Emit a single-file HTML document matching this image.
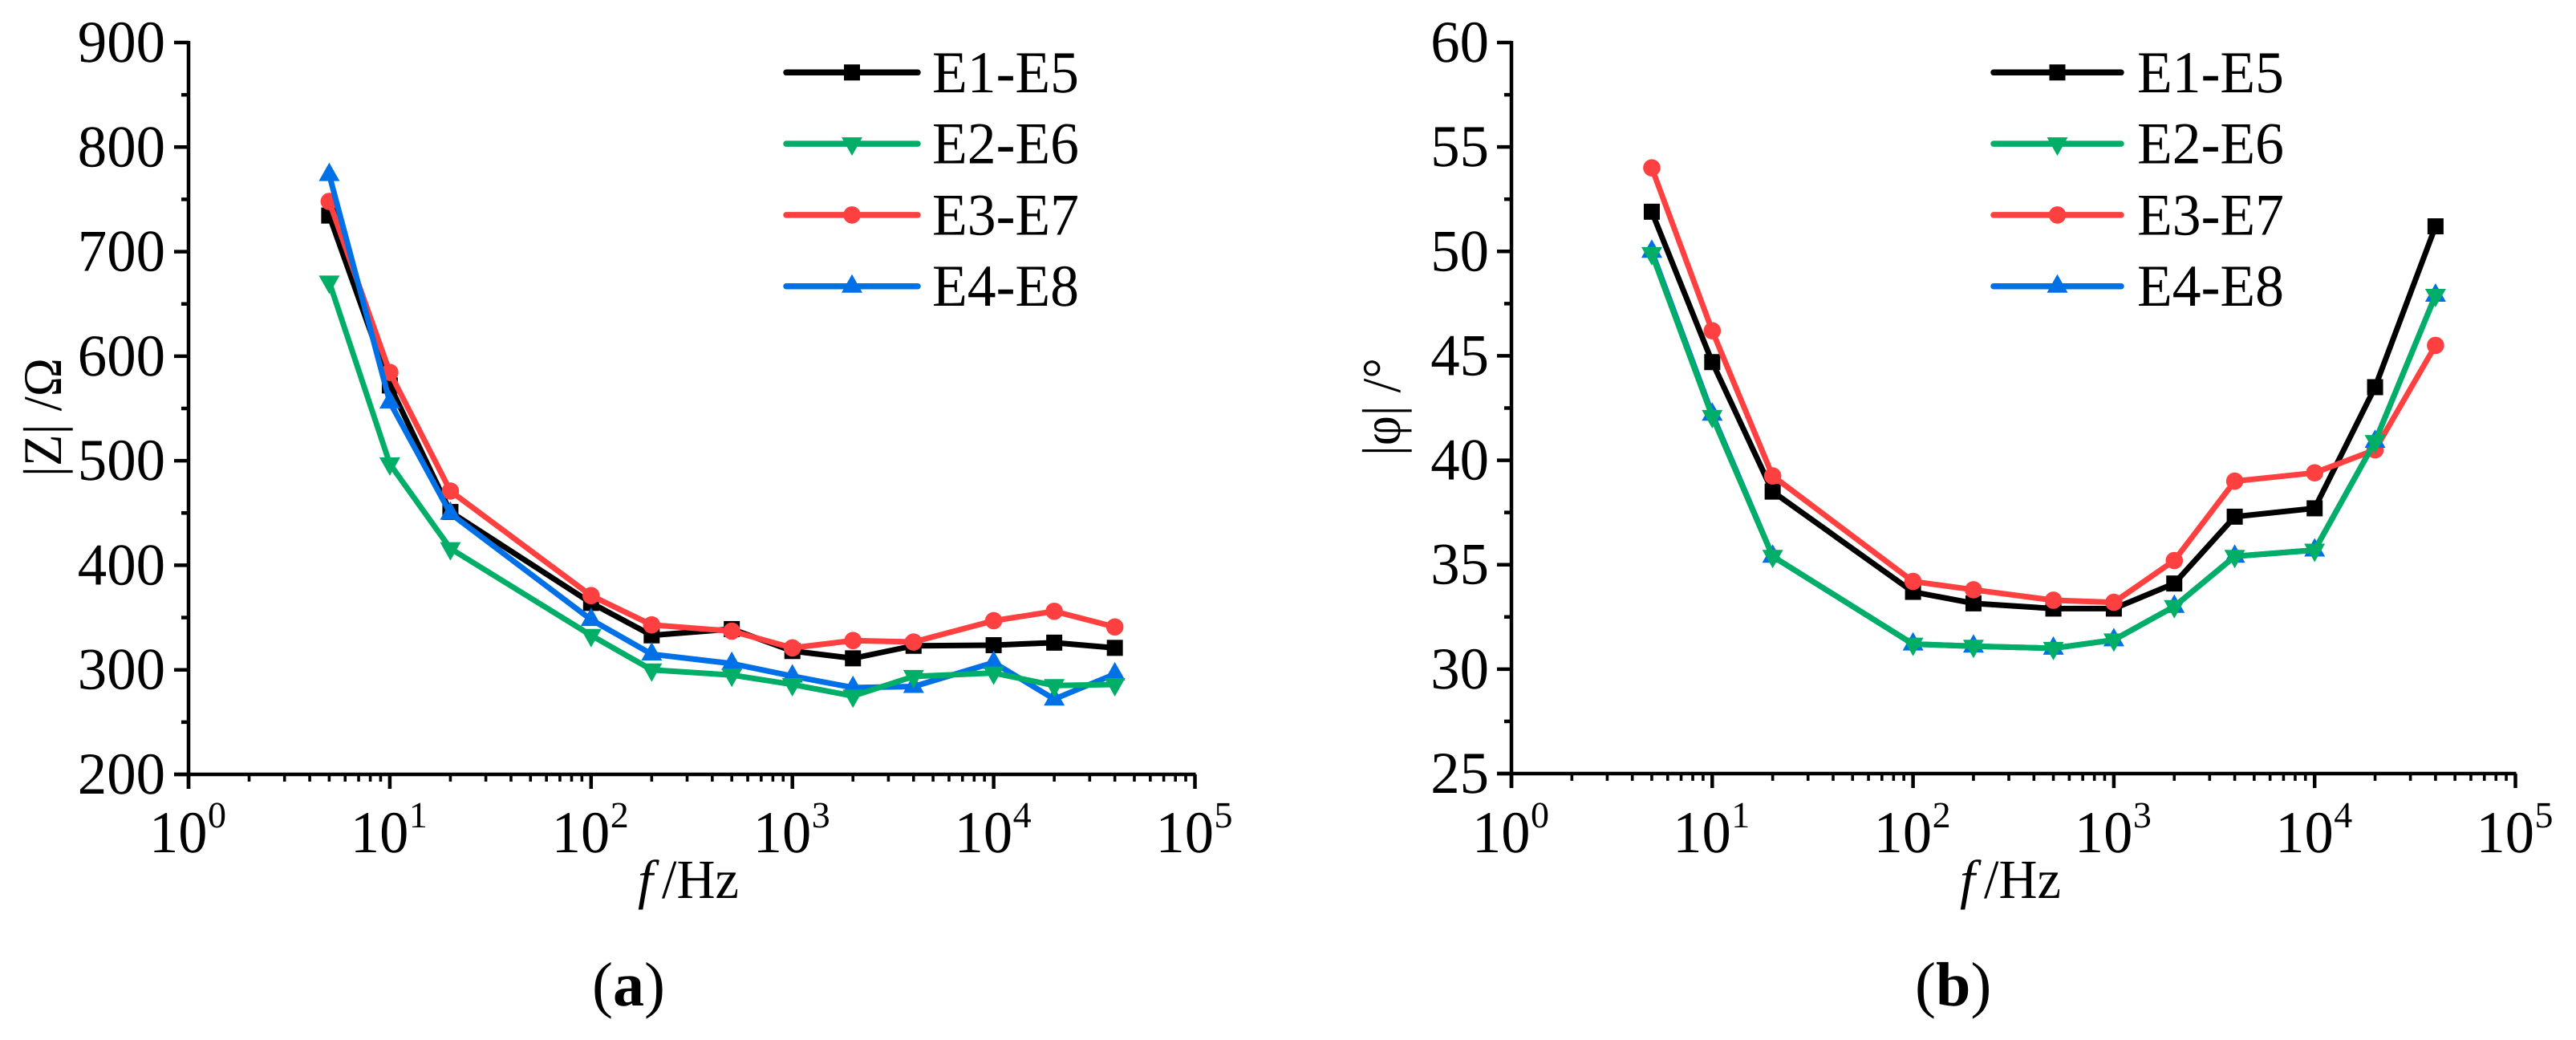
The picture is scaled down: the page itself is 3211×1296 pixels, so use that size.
<!DOCTYPE html>
<html lang="en">
<head>
<meta charset="utf-8">
<title>Impedance magnitude and phase versus frequency</title>
<style>
html,body{margin:0;padding:0;background:#fff;}
svg{display:block;font-family:"Liberation Serif","Noto Serif CJK SC",serif;fill:#000;text-rendering:geometricPrecision;}
</style>
</head>
<body>
<svg id="figure" xmlns="http://www.w3.org/2000/svg" width="3211" height="1296" viewBox="0 0 3211 1296">
<rect width="3211" height="1296" fill="#fff"></rect>
</svg>
<script>
const frequencies = [5, 10, 20, 100, 200, 500, 1000, 2000, 4000, 10000, 20000, 40000];
const seriesNames = ["E1-E5", "E2-E6", "E3-E7", "E4-E8"];
const xDecades = [0, 1, 2, 3, 4, 5];

const zE1E5 = [734.5, 572, 451, 364, 333, 339, 318, 311, 323, 323.6, 326, 321];
const zE2E6 = [671, 497, 416, 333, 300, 295, 286, 275, 293.7, 297, 285, 286];
const zE3E7 = [748, 584.5, 471, 371, 343, 337, 321, 328, 326.6, 347, 356, 341];
const zE4E8 = [773.6, 556, 449.6, 348, 315, 306, 294, 283, 284, 307, 272, 296];
const zTicks = [200, 300, 400, 500, 600, 700, 800, 900];
const zMinorTicks = [250, 350, 450, 550, 650, 750, 850];

const phiE1E5 = [51.9, 44.7, 38.5, 33.7, 33.15, 32.9, 32.9, 34.1, 37.3, 37.7, 43.5, 51.2];
const phiE2E6 = [49.9, 42.1, 35.4, 31.2, 31.1, 31.0, 31.4, 33.0, 35.4, 35.7, 40.9, 47.9];
const phiE3E7 = [54.0, 46.2, 39.25, 34.2, 33.8, 33.3, 33.2, 35.2, 39.0, 39.4, 40.5, 45.5];
const phiE4E8 = [50.0, 42.2, 35.4, 31.2, 31.1, 31.0, 31.4, 33.0, 35.4, 35.7, 40.9, 47.9];
const phiTicks = [25, 30, 35, 40, 45, 50, 55, 60];
const phiMinorTicks = [27.5, 32.5, 37.5, 42.5, 47.5, 52.5, 57.5];

const NS = "http://www.w3.org/2000/svg";
const root = document.getElementById("figure");
const COLORS = { black: "#000000", green: "#00AE68", red: "#FF4040", blue: "#0070E6" };

function make(tag, parent, name, attrs, interactable) {
  const el = document.createElementNS(NS, tag);
  for (const k in attrs) el.setAttribute(k, attrs[k]);
  
  
  parent.appendChild(el);
  return el;
}

function drawMarker(parent, kind, x, y, color, name) {
  if (kind === "square") {
    make("rect", parent, name, { x: x - 10, y: y - 10, width: 20, height: 20, fill: color });
  } else if (kind === "circle") {
    make("circle", parent, name, { cx: x, cy: y, r: 10.8, fill: color });
  } else if (kind === "down") {
    make("polygon", parent, name, { points: (x - 13) + "," + (y - 8) + " " + (x + 13) + "," + (y - 8) + " " + x + "," + (y + 15), fill: color });
  } else {
    make("polygon", parent, name, { points: (x - 13) + "," + (y + 8) + " " + (x + 13) + "," + (y + 8) + " " + x + "," + (y - 15), fill: color });
  }
}

function drawPanel(cfg) {
  const g = make("g", root, cfg.id + "-panel", {});
  const xS = function (f) { return cfg.x0 + cfg.decade * Math.log10(f); };
  const yS = function (v) { return cfg.yBottom - (v - cfg.vMin) * (cfg.yBottom - cfg.yTop) / (cfg.vMax - cfg.vMin); };
  const xMax = xS(Math.pow(10, xDecades[xDecades.length - 1]));

  const axes = make("g", g, cfg.id + "-axes", { stroke: "#000", "stroke-width": 4.5, fill: "none" });
  make("line", axes, cfg.id + "-y-axis-line", { x1: cfg.x0, x2: cfg.x0, y1: cfg.yTop - 2, y2: cfg.yBottom + 18 });
  make("line", axes, cfg.id + "-x-axis-line", { x1: cfg.x0 - 18, x2: xMax + 1, y1: cfg.yBottom, y2: cfg.yBottom });

  cfg.ticks.forEach(function (t) {
    const y = yS(t);
    make("line", axes, cfg.id + "-y-major-tick", { x1: cfg.x0 - 18, x2: cfg.x0, y1: y, y2: y });
    const s = String(t);
    const label = make("text", g, cfg.id + "-y-tick-label", { x: cfg.yLabelX - s.length * 36.4, y: y + 24, "font-size": 74, textLength: s.length * 36.4, lengthAdjust: "spacingAndGlyphs" });
    label.textContent = s;
  });
  cfg.minor.forEach(function (t) {
    const y = yS(t);
    make("line", axes, cfg.id + "-y-minor-tick", { x1: cfg.x0 - 9, x2: cfg.x0, y1: y, y2: y });
  });

  xDecades.forEach(function (d, i) {
    const base = Math.pow(10, d);
    const x = xS(base);
    make("line", axes, cfg.id + "-x-major-tick", { x1: x, x2: x, y1: cfg.yBottom, y2: cfg.yBottom + 18 });
    if (i < xDecades.length - 1) {
      [2, 3, 4, 5, 6, 7, 8, 9].forEach(function (m) {
        const mx = xS(base * m);
        make("line", axes, cfg.id + "-x-minor-tick", { x1: mx, x2: mx, y1: cfg.yBottom, y2: cfg.yBottom + 9, "stroke-width": 3.6 });
      });
    }
    const tg = make("g", g, cfg.id + "-x-tick-label", {});
    const t = make("text", tg, cfg.id + "-x-tick-base", { x: x - 49, y: 1062, "font-size": 74, textLength: 72.5, lengthAdjust: "spacingAndGlyphs" });
    t.textContent = "10";
    const sup = make("text", tg, cfg.id + "-x-tick-exponent", { x: x + 24, y: 1031, "font-size": 46 });
    sup.textContent = d;
  });

  const series = [
    { name: seriesNames[0], values: cfg.data[0], color: COLORS.black, marker: "square" },
    { name: seriesNames[2], values: cfg.data[2], color: COLORS.red, marker: "circle" },
    { name: seriesNames[3], values: cfg.data[3], color: COLORS.blue, marker: "up" },
    { name: seriesNames[1], values: cfg.data[1], color: COLORS.green, marker: "down" }
  ];
  series.forEach(function (s) {
    const sg = make("g", g, cfg.id + "-series-" + s.name.toLowerCase(), {});
    const pts = s.values.map(function (v, i) { return xS(frequencies[i]) + "," + yS(v); }).join(" ");
    make("polyline", sg, cfg.id + "-line-" + s.name.toLowerCase(), { points: pts, fill: "none", stroke: s.color, "stroke-width": 7, "stroke-linejoin": "round" });
    s.values.forEach(function (v, i) {
      drawMarker(sg, s.marker, xS(frequencies[i]), yS(v), s.color, cfg.id + "-point-" + s.name.toLowerCase());
    });
  });

  const legend = make("g", g, cfg.id + "-legend", {});
  const legendKinds = [["square", COLORS.black], ["down", COLORS.green], ["circle", COLORS.red], ["up", COLORS.blue]];
  seriesNames.forEach(function (n, i) {
    const y = 90.3 + i * 88.8;
    const entry = make("g", legend, cfg.id + "-legend-entry", {});
    make("line", entry, cfg.id + "-legend-line", { x1: cfg.legendX1, x2: cfg.legendX2, y1: y, y2: y, stroke: legendKinds[i][1], "stroke-width": 7.5, "stroke-linecap": "round" });
    drawMarker(entry, legendKinds[i][0], (cfg.legendX1 + cfg.legendX2) / 2, y, legendKinds[i][1], cfg.id + "-legend-marker");
    const t = make("text", entry, cfg.id + "-legend-label", { x: cfg.legendTextX, y: y + 24.5, "font-size": 74, textLength: 183, lengthAdjust: "spacingAndGlyphs" });
    t.textContent = n;
  });

  const xt = make("g", g, cfg.id + "-x-axis-title", {});
  const fT = make("text", xt, cfg.id + "-x-title-variable", { x: cfg.xTitleX, y: 1119, "font-size": 68, "font-style": "italic" });
  fT.textContent = "f";
  const hz = make("text", xt, cfg.id + "-x-title-unit", { x: cfg.xTitleX + 30, y: 1119, "font-size": 69, textLength: 96, lengthAdjust: "spacingAndGlyphs" });
  hz.textContent = "/Hz";

  const yt = make("text", g, cfg.id + "-y-axis-title", { transform: "translate(" + cfg.yTitleX + "," + cfg.yTitleY + ") rotate(-90)", "font-size": 68, textLength: cfg.yTitleLen, lengthAdjust: "spacingAndGlyphs" });
  yt.textContent = cfg.yTitle;

  const cap = make("text", g, cfg.id + "-caption", { x: cfg.capX, y: 1253, "font-size": 78 });
  cap.appendChild(document.createTextNode("("));
  const capB = make("tspan", cap, cfg.id + "-caption-letter", { "font-weight": "bold" });
  capB.textContent = cfg.capLetter;
  cap.appendChild(document.createTextNode(")"));
}

drawPanel({
  id: "panel-a", x0: 235, decade: 250.9, yTop: 53, yBottom: 965, vMin: 200, vMax: 900,
  ticks: zTicks, minor: zMinorTicks, data: [zE1E5, zE2E6, zE3E7, zE4E8],
  yLabelX: 206, legendX1: 980, legendX2: 1144, legendTextX: 1162,
  xTitleX: 795, yTitle: "|Z| /Ω", yTitleLen: 148, yTitleX: 76, yTitleY: 594, capX: 738, capLetter: "a"
});
drawPanel({
  id: "panel-b", x0: 1884, decade: 250.3, yTop: 53, yBottom: 964, vMin: 25, vMax: 60,
  ticks: phiTicks, minor: phiMinorTicks, data: [phiE1E5, phiE2E6, phiE3E7, phiE4E8],
  yLabelX: 1856, legendX1: 2485, legendX2: 2644, legendTextX: 2664,
  xTitleX: 2443, yTitle: "|φ| /°", yTitleLen: 122, yTitleX: 1745, yTitleY: 568, capX: 2387, capLetter: "b"
});
</script>
</body>
</html>
